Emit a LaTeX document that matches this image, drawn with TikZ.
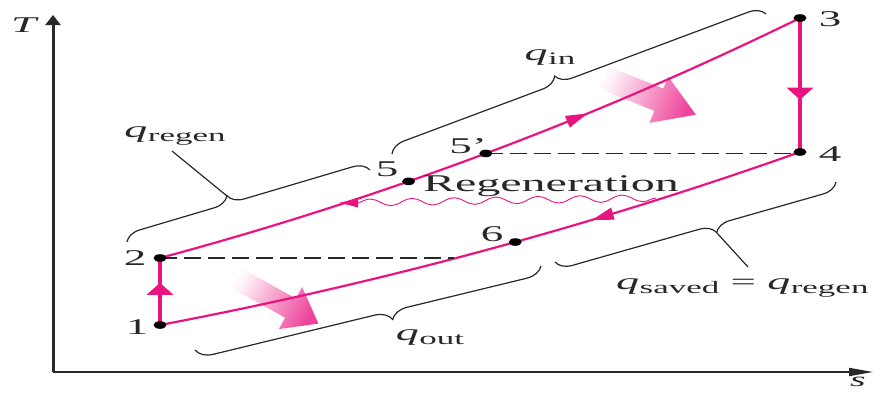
\documentclass[tikz,border=0pt]{standalone}
\usepackage{fontspec}
\setmainfont{Liberation Serif}[FakeStretch=2.0]
\usetikzlibrary{arrows.meta,decorations.pathreplacing,decorations.pathmorphing,decorations.markings,calc}
\definecolor{pinkc}{RGB}{234,20,128}
\definecolor{inkc}{RGB}{40,40,40}
\newcommand\qlab[1]{{\fontsize{23}{24}\selectfont\textit{q}}\kern0.5pt\raisebox{-4pt}{\fontsize{17.5}{18}\selectfont #1}}
\begin{document}
\begin{tikzpicture}[x=1pt,y=-1pt,
  lbl/.style={font=\fontsize{22.5}{24}\selectfont, inner sep=0pt, text=inkc},
  curveproc/.style={draw=pinkc, line width=2.2pt},
  vproc/.style={draw=pinkc, line width=4.5pt},
  dashline/.style={draw=inkc, line width=1.3pt, dash pattern=on 17pt off 7pt},
  bracebox/.style={draw=inkc, line width=1.2pt, decorate},
  leader/.style={draw=inkc, line width=1.2pt},
  axisline/.style={draw=inkc},
  shadearrow/.style={top color=pinkc!4, bottom color=pinkc!80, draw=none},
  dotmark/.style={fill=black},
]
\useasboundingbox (0,0) rectangle (880,392);
% axes
\coordinate (O) at (53,372);
\coordinate (Ytop) at (53,15);
\coordinate (Xend) at (873,370);
\draw[axisline, line width=3pt, -{Triangle[width=15pt,length=10pt]}] (O) -- (Ytop);
\draw[axisline, line width=1.8pt, -{Triangle[width=8pt,length=24pt]}] (O) -- (O -| Xend);
% shaded heat arrows
\begin{scope}[shift={(605,78)}, rotate=-22]
\shade[shadearrow, shading angle=68] (0,-12) -- (58,-12) -- (58,-25) -- (98,0) -- (58,25) -- (58,12) -- (0,12) -- cycle;
\end{scope}
\begin{scope}[shift={(238,279)}, rotate=-29]
\shade[shadearrow, shading angle=61] (0,-11) -- (60,-11) -- (60,-24) -- (92,0) -- (60,24) -- (60,11) -- (0,11) -- cycle;
\end{scope}
% state points
\coordinate (p1) at (160,325);
\coordinate (p2) at (160,258);
\coordinate (p3) at (800,18);
\coordinate (p4) at (800,152);
% processes
\draw[curveproc, postaction={decorate}, decoration={markings, mark=at position 0.66 with {\arrow{Triangle[length=22pt,width=12pt]}}}]
  (p2) .. controls (381,198.6) and (594.4,118.6) .. (p3) coordinate[pos=0.38] (p5) coordinate[pos=0.5] (p5p);
\draw[curveproc, postaction={decorate}, decoration={markings, mark=at position 0.67 with {\arrowreversed{Triangle[length=22pt,width=12pt]}}}]
  (p1) .. controls (377.7,283.7) and (591.1,226.1) .. (p4) coordinate[pos=0.55] (p6) coordinate[pos=0.455] (c14);
\draw[vproc, postaction={decorate}, decoration={markings, mark=at position 0.61 with {\arrow{Triangle[length=12pt,width=26pt]}}}] (p3) -- (p4);
\draw[vproc, postaction={decorate}, decoration={markings, mark=at position 0.63 with {\arrow{Triangle[length=12pt,width=26pt]}}}] (p1) -- (p2);
% dashed lines
\draw[dashline] (p2) -- (p2 -| c14);
\draw[dashline] (p5p) -- (p5p -| p4);
% regeneration wave
\coordinate (wA) at (656,198);
\coordinate (wB) at (338,203);
\draw[draw=pinkc, line width=0.9pt, decorate, decoration={snake, amplitude=3.5pt, segment length=42pt, post length=16pt}, -{Latex[length=20pt,width=10pt]}] (wA) -- (wB);
% dots
\foreach \p in {p1,p2,p3,p4,p5,p5p,p6} \fill[dotmark] (\p) ellipse [x radius=6.5pt, y radius=3.8pt];
% labels
\node[lbl] (l1) at (137,327) {1};
\node[lbl] (l2) at (135,258) {2};
\node[lbl] (l3) at (830,19) {3};
\node[lbl] (l4) at (830,154) {4};
\node[lbl] (l5) at (387,169) {5};
\node[lbl] (l5p) at (468,146) {5'};
\node[lbl] (l6) at (492,234) {6};
\node[lbl] (lT) at (25,25) {\textit{T}};
\node[lbl, font=\fontsize{20}{22}\selectfont] (ls) at (858,382) {\textit{s}};
\node[lbl, font=\fontsize{24}{26}\selectfont] (lreg) at (551,186) {Regeneration};
% braces
\coordinate (qinA) at (392,154); \coordinate (qinB) at (766,14);
\draw[bracebox, decoration={brace, amplitude=16pt, aspect=0.45}] (qinA) -- (qinB);
\node[lbl] (lqin) at (550,58) {\qlab{in}};
\coordinate (qrA) at (127,242); \coordinate (qrB) at (370,170);
\draw[bracebox, decoration={brace, amplitude=16pt, aspect=0.43}] (qrA) -- (qrB);
\coordinate (qrTip) at (227,196);
\coordinate (qrEnd) at (172,151);
\draw[leader] (qrTip) -- (qrEnd);
\node[lbl] (lqr) at (175,136) {\qlab{regen}};
\coordinate (qsA) at (555,262); \coordinate (qsB) at (836,182);
\draw[bracebox, decoration={brace, mirror, amplitude=16pt, aspect=0.56}] (qsA) -- (qsB);
\coordinate (qsTip) at (717,233); \coordinate (qsEnd) at (748,267);
\draw[leader] (qsTip) -- (qsEnd);
\node[lbl, anchor=west] (lqs) at (616,288) {\qlab{saved} = \qlab{regen}};
\coordinate (qoA) at (195,350); \coordinate (qoB) at (541,266);
\draw[bracebox, decoration={brace, mirror, amplitude=17pt, aspect=0.56}] (qoA) -- (qoB);
\node[lbl] (lqo) at (430,338) {\qlab{out}};
\end{tikzpicture}
\end{document}
